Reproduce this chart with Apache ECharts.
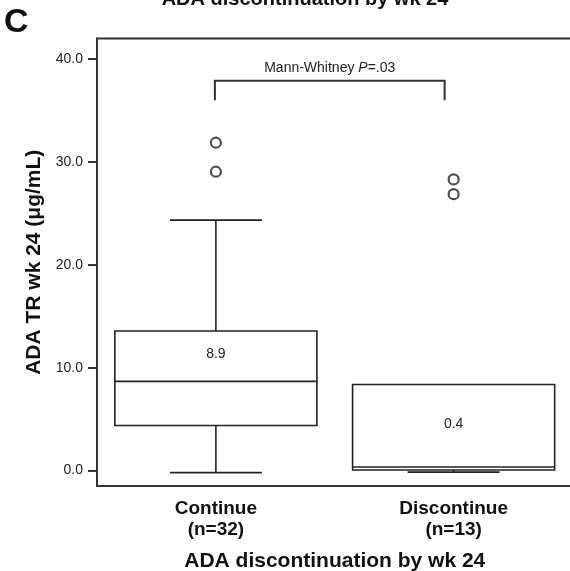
<!DOCTYPE html>
<html><head><meta charset="utf-8">
<script src="https://cdn.jsdelivr.net/npm/echarts@6/dist/echarts.min.js"></script>
<style>html,body{margin:0;padding:0;background:#fff}#c{width:570px;height:571px}</style>
</head><body><div id="c"></div>
<script>
// ---- data ----
const categories = ['Continue\n(n=32)', 'Discontinue\n(n=13)'];
const whiskerLow = [-0.2, -0.15];
const q1 = [4.38, 0.05];
const median = [8.67, 0.35];
const q3 = [13.56, 8.37];
const whiskerHigh = [24.34, 8.37];
const medianLabels = ['8.9', '0.4'];
const outlierCat = [0, 0, 1, 1];
const outlierVal = [31.87, 29.05, 28.3, 26.87];
const yTicks = [0, 10, 20, 30, 40];
const yMin = -1.5, yMax = 42;
const bracketTop = 37.9, bracketLeg = 36.0;

const FONT = '"Liberation Sans", Arial, Helvetica, sans-serif';
const chart = echarts.init(document.getElementById('c'), null, {renderer: 'canvas'});

const boxData = categories.map((c, i) => [i, whiskerLow[i], q1[i], median[i], q3[i], whiskerHigh[i]]);
const outData = outlierCat.map((c, i) => [c, outlierVal[i]]);

function renderBox(params, api) {
  const i = api.value(0);
  const lo = api.coord([i, api.value(1)]);
  const b1 = api.coord([i, api.value(2)]);
  const md = api.coord([i, api.value(3)]);
  const b3 = api.coord([i, api.value(4)]);
  const hi = api.coord([i, api.value(5)]);
  const band = api.size([1, 0])[0];
  const bw = band * 0.85, cw = bw * 0.455;
  const x = lo[0];
  const st = {stroke: '#222', lineWidth: 1.6, fill: null};
  const labY = api.coord([i, (api.value(3) + api.value(4)) / 2])[1];
  const kids = [];
  if (hi[1] < b3[1] - 0.5) {
    kids.push({type: 'line', shape: {x1: x, y1: b3[1], x2: x, y2: hi[1]}, style: st});
    kids.push({type: 'line', shape: {x1: x - cw / 2, y1: hi[1], x2: x + cw / 2, y2: hi[1]}, style: st});
  }
  kids.push(
    {type: 'line', shape: {x1: x, y1: b1[1], x2: x, y2: lo[1]}, style: st},
    {type: 'line', shape: {x1: x - cw / 2, y1: lo[1], x2: x + cw / 2, y2: lo[1]}, style: st},
    {type: 'rect', shape: {x: x - bw / 2, y: b3[1], width: bw, height: b1[1] - b3[1]},
      style: {stroke: '#222', lineWidth: 1.6, fill: '#fff'}},
    {type: 'line', shape: {x1: x - bw / 2, y1: md[1], x2: x + bw / 2, y2: md[1]}, style: st},
    {type: 'text', x: x, y: labY - 2, style: {text: medianLabels[params.dataIndex], x: 0, y: 0,
      align: 'center', verticalAlign: 'middle', fontSize: 14, fontFamily: FONT, fill: '#222'}}
  );
  return {type: 'group', children: kids};
}

chart.setOption({
  animation: false,
  backgroundColor: '#fff',
  grid: {left: 97, right: -2.5, top: 38.5, bottom: 85, containLabel: false, outerBoundsMode: 'none',
    show: true, borderColor: '#333', borderWidth: 2, backgroundColor: 'transparent'},
  xAxis: {
    type: 'category', data: categories, boundaryGap: true,
    axisLine: {onZero: false, lineStyle: {color: '#333', width: 2}},
    axisTick: {show: false},
    axisLabel: {fontSize: 19, fontWeight: 'bold', lineHeight: 21, color: '#111', margin: 12, fontFamily: FONT},
    name: 'ADA discontinuation by wk 24', nameLocation: 'middle', nameGap: 65,
    nameTextStyle: {fontSize: 21, fontWeight: 'bold', color: '#111', fontFamily: FONT}
  },
  yAxis: {
    type: 'value', min: yMin, max: yMax,
    splitLine: {show: false},
    axisLine: {show: true, lineStyle: {color: '#333', width: 2}},
    axisTick: {show: true, length: 9, customValues: yTicks, lineStyle: {color: '#333', width: 2}},
    axisLabel: {customValues: yTicks, formatter: v => v.toFixed(1), fontSize: 14, color: '#222', margin: 14, fontFamily: FONT},
    name: 'ADA TR wk 24 (\u03bcg/mL)', nameLocation: 'middle', nameGap: 46, nameRotate: 90,
    nameTextStyle: {fontSize: 21, fontWeight: 'bold', color: '#111', fontFamily: FONT}
  },
  series: [
    {type: 'custom', renderItem: renderBox, data: boxData, encode: {x: 0, y: [1, 2, 3, 4, 5]}, z: 2},
    {type: 'scatter', data: outData, symbol: 'circle', symbolSize: 10,
      itemStyle: {color: '#fff', borderColor: '#222', borderWidth: 2.2}, z: 3}
  ]
});

function addGraphics() {
  const pL = chart.convertToPixel({xAxisIndex: 0, yAxisIndex: 0}, [0, bracketTop]);
  const pR = chart.convertToPixel({xAxisIndex: 0, yAxisIndex: 0}, [1, bracketLeg]);
  const xl = pL[0] - 1, xr = pR[0] - 9, yt = pL[1], yb = pR[1];
  chart.setOption({
    graphic: [
      {type: 'polyline', shape: {points: [[xl, yb], [xl, yt], [xr, yt], [xr, yb]]},
        style: {stroke: '#333', lineWidth: 2, fill: null}},
      {type: 'text', x: (xl + xr) / 2, y: yt - 12.5, style: {
        text: '{a|Mann-Whitney }{b|P}{a|=.03}', align: 'center', verticalAlign: 'middle',
        rich: {a: {fontSize: 14, fontFamily: FONT, fill: '#222'}, b: {fontSize: 14, fontFamily: FONT, fontStyle: 'italic', fill: '#222'}}}},
      {type: 'text', x: 4, y: 22.5, style: {text: 'C', fontSize: 34, fontWeight: 'bold', fontFamily: FONT, fill: '#111', align: 'left', verticalAlign: 'middle'}},
      {type: 'text', x: 305, y: -0.5, style: {text: 'ADA discontinuation by wk 24', fontSize: 20, fontWeight: 'bold', fontFamily: FONT, fill: '#111', align: 'center', verticalAlign: 'middle'}}
    ]
  });
}
addGraphics();
</script></body></html>
